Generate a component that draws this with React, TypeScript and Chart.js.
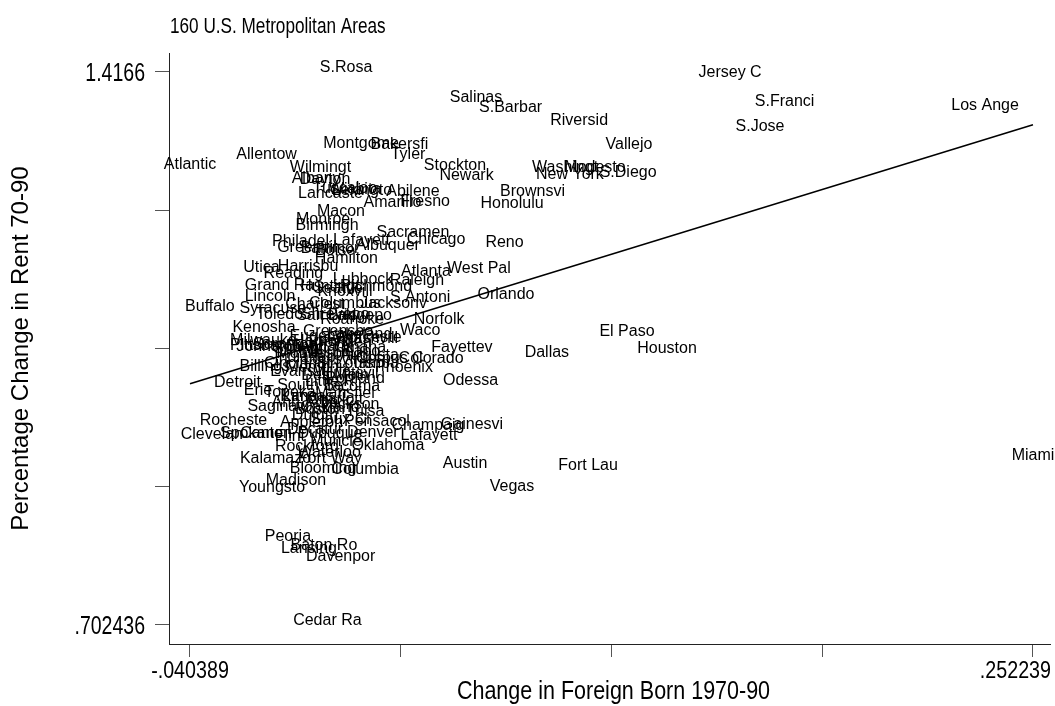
import React, { useEffect, useRef } from "react";
import { Chart, registerables } from "chart.js";

Chart.register(...registerables);

const cityNames = [
  "Atlantic","Allentow","Wilmingt","Albany","Dayton","Lancaste","Tuscaloo","Wichita","Abilene","Amarillo",
  "Fresno","Montgome","Bakersfi","Tyler","Stockton","Newark","Brownsvi","Honolulu","Macon","Monroe",
  "Birmingh","Philadel","Greenvil","Lafayett","Sacramen","Chicago","Albuquer","Reno","Baltimor","Boise",
  "Hamilton","Utica","Harrisbu","Reading","Grand Ra","Lubbock","Raleigh","Atlanta","West Pal","Richmond",
  "Huntingt","Knoxvill","Lincoln","Buffalo","Syracuse","Toledo","S.Antoni","Jacksonv","Columbus","Charlest",
  "Shrevepo","Salt Lak","Norfolk","Orlando","Kenosha","Greensbo","Waco","Eugene","Milwauke","Pittsbur",
  "Scranton","Binghamt","Springfi","Johnstow","Lakeland","Nashvill","Fayettev","Augusta","Colorado","Phoenix",
  "Dallas","El Paso","Houston","Odessa","Gainesvi","Austin","Fort Lau","Vegas","Miami","Jersey C",
  "S.Franci","Los Ange","S.Jose","Riversid","Vallejo","S.Barbar","Washingt","New York","Modesto","S.Diego",
  "Salinas","S.Rosa","Billings","Detroit","Des Moin","Huntsvil","Erie","South Be","Kansas C","Saginaw",
  "Ann Arbo","Oakland","Boston","Charlott","Rocheste","Appleton","Tulsa","Pensacol","Clevelan","Spokane",
  "Canton","Flint","Decatur","Dubuque","Denver","Champaig","Lafayett","Muncie","Rockford","Oklahoma",
  "Waterloo","Kalamazo","Fort Way","Blooming","Columbia","Madison","Youngsto","Peoria","Lansing","Baton Ro",
  "Davenpor","Cedar Ra","Lexingto","Seattle","Worceste","Bridgepo","Roanoke","Indianap","Louisvil","Cincinna",
  "St.Louis","Memphis","Evansvil","Minneapo","Omaha","Tampa","Mobile","Hartford","Providen","Portland",
  "Tucson","Topeka","Lima","Mansfiel","Duluth","Sioux Ci","Jackson","Little R","Tacoma","Corpus C",
];

const foreignBornChange = [
  -0.040389, -0.0138, 0.0049, 0.0034, 0.0065, 0.0084, 0.0134, 0.0169, 0.0370, 0.0299,
  0.0412, 0.0190, 0.0323, 0.0353, 0.0516, 0.0556, 0.0785, 0.0714, 0.0120, 0.0058,
  0.0072, -0.0020, 0.0002, 0.0191, 0.0370, 0.0450, 0.0283, 0.0688, 0.0082, 0.0100,
  0.0139, -0.0156, 0.0006, -0.0045, -0.0093, 0.0197, 0.0384, 0.0415, 0.0599, 0.0242,
  0.0082, 0.0134, -0.0126, -0.0335, -0.0116, -0.0093, 0.0395, 0.0303, 0.0134, 0.0030,
  0.0100, 0.0065, 0.0461, 0.0693, -0.0147, 0.0110, 0.0395, 0.0037, -0.0149, -0.0171,
  -0.0074, 0.0047, -0.0022, -0.0126, 0.0186, 0.0221, 0.0540, 0.0219, 0.0433, 0.0339,
  0.0835, 0.1113, 0.1252, 0.0570, 0.0575, 0.0551, 0.0978, 0.0714, 0.252239, 0.1471,
  0.1660, 0.2356, 0.1575, 0.0947, 0.1120, 0.0709, 0.0898, 0.0915, 0.1002, 0.1117,
  0.0589, 0.0138, -0.0144, -0.0239, 0.0100, 0.0152, -0.0168, 0.0013, 0.0030, -0.0098,
  -0.0005, 0.0082, 0.0047, 0.0100, -0.0253, 0.0018, 0.0204, 0.0245, -0.0328, -0.0190,
  -0.0140, -0.0057, 0.0030, 0.0082, 0.0231, 0.0422, 0.0426, 0.0103, 0.0002, 0.0283,
  0.0079, -0.0107, 0.0082, 0.0058, 0.0204, -0.0036, -0.0119, -0.0064, 0.0009, 0.0061,
  0.0119, 0.0073, 0.0193, 0.0110, 0.0214, 0.0186, 0.0159, -0.0005, 0.0082, -0.0039,
  0.0134, 0.0040, -0.0022, 0.0134, 0.0186, 0.0238, -0.0022, 0.0054, 0.0117, 0.0169,
  0.0065, -0.0057, -0.0022, 0.0134, 0.0030, 0.0117, 0.0152, 0.0082, 0.0159, 0.0290,
];

const rentChange = [
  1.2916, 1.3033, 1.2871, 1.2723, 1.2716, 1.2542, 1.2600, 1.2587, 1.2561, 1.2413,
  1.2432, 1.3181, 1.3168, 1.3045, 1.2891, 1.2768, 1.2555, 1.2407, 1.2303, 1.2200,
  1.2123, 1.1916, 1.1839, 1.1929, 1.2032, 1.1942, 1.1858, 1.1897, 1.1826, 1.1800,
  1.1697, 1.1580, 1.1593, 1.1509, 1.1342, 1.1426, 1.1413, 1.1529, 1.1568, 1.1335,
  1.1335, 1.1271, 1.1206, 1.1077, 1.1051, 1.0974, 1.1193, 1.1116, 1.1116, 1.1103,
  1.0974, 1.0961, 1.0909, 1.1232, 1.0812, 1.0754, 1.0767, 1.0690, 1.0638, 1.0574,
  1.0587, 1.0561, 1.0535, 1.0561, 1.0716, 1.0664, 1.0548, 1.0445, 1.0412, 1.0290,
  1.0477, 1.0754, 1.0535, 1.0122, 0.9560, 0.9057, 0.9031, 0.8754, 0.9160, 1.4097,
  1.3727, 1.3674, 1.3400, 1.3478, 1.3168, 1.3646, 1.2871, 1.2781, 1.2871, 1.2813,
  1.3775, 1.4166, 1.0303, 1.0096, 1.0186, 1.0212, 0.9993, 1.0057, 0.9915, 0.9786,
  0.9838, 0.9773, 0.9748, 0.9877, 0.9606, 0.9580, 0.9722, 0.9593, 0.9431, 0.9438,
  0.9438, 0.9399, 0.9490, 0.9438, 0.9451, 0.9541, 0.9412, 0.9335, 0.9270, 0.9283,
  0.9193, 0.9109, 0.9115, 0.8986, 0.8973, 0.8831, 0.8741, 0.8102, 0.7954, 0.7992,
  0.7844, 0.702436, 1.2574, 1.1309, 1.0677, 1.0961, 1.0909, 1.0419, 1.0393, 1.0341,
  1.0341, 1.0290, 1.0238, 1.0496, 1.0548, 1.0341, 1.0470, 1.0625, 1.0612, 1.0148,
  1.0470, 0.9967, 0.9915, 0.9954, 0.9670, 0.9619, 0.9812, 1.0109, 1.0045, 1.0406,
];

const fitX = [-0.040389, 0.252239];
const fitY = [1.0139, 1.3481];

const xTickValues = [-0.040389, 0.032768, 0.105925, 0.179082, 0.252239];
const xTickLabels = ["-.040389", "", "", "", ".252239"];
const yTickValues = [0.702436, 0.880977, 1.059518, 1.238059, 1.4166];
const yTickLabels = [".702436", "", "", "", "1.4166"];

const titleText = "160 U.S. Metropolitan Areas";
const xTitle = "Change in Foreign Born 1970-90";
const yTitle = "Percentage Change in Rent 70-90";

const FONT = '"Liberation Sans", Arial, sans-serif';

function condensedText(
  ctx: CanvasRenderingContext2D,
  text: string,
  x: number,
  y: number,
  size: number,
  sx: number,
  align: CanvasTextAlign,
  baseline: CanvasTextBaseline,
  rotation = 0
) {
  ctx.save();
  ctx.translate(x, y);
  if (rotation) ctx.rotate(rotation);
  ctx.scale(sx, 1);
  ctx.font = size + "px " + FONT;
  ctx.textAlign = align;
  ctx.textBaseline = baseline;
  ctx.fillStyle = "#000";
  ctx.fillText(text, 0, 0);
  ctx.restore();
}

const textPlugin = {
  id: "stataText",
  afterDatasetsDraw(chart: any) {
    const ctx: CanvasRenderingContext2D = chart.ctx;
    const meta = chart.getDatasetMeta(0);
    ctx.save();
    ctx.font = "16px " + FONT;
    ctx.fillStyle = "#000";
    ctx.textAlign = "center";
    ctx.textBaseline = "alphabetic";
    meta.data.forEach((pt: any, i: number) => {
      ctx.fillText(cityNames[i], pt.x, pt.y);
    });
    ctx.restore();
  },
  afterDraw(chart: any) {
    const ctx: CanvasRenderingContext2D = chart.ctx;
    const xs = chart.scales.x;
    const ys = chart.scales.y;
    const area = chart.chartArea;
    // title
    condensedText(ctx, titleText, area.left + 1, 33, 22, 0.78, "left", "alphabetic");
    // x tick labels
    xTickValues.forEach((v, i) => {
      const label = xTickLabels[i];
      if (!label) return;
      ctx.save();
      ctx.font = "24px " + FONT;
      const w = ctx.measureText(label).width * 0.82;
      ctx.restore();
      let px = xs.getPixelForValue(v);
      px = Math.min(px, chart.width - 4 - w / 2);
      condensedText(ctx, label, px, xs.top + 27, 24, 0.82, "center", "middle");
    });
    // y tick labels
    yTickValues.forEach((v, i) => {
      const label = yTickLabels[i];
      if (!label) return;
      const py = ys.getPixelForValue(v);
      condensedText(ctx, label, area.left - 24, py + 2, 25, 0.78, "right", "middle");
    });
    // axis titles
    condensedText(ctx, xTitle, (area.left + area.right) / 2 + 4, 699, 25, 0.86, "center", "alphabetic");
    condensedText(ctx, yTitle, 28, (area.top + area.bottom) / 2, 24, 1, "center", "alphabetic", -Math.PI / 2);
  },
};

export default function App() {
  const ref = useRef<HTMLCanvasElement | null>(null);
  useEffect(() => {
    document.body.style.margin = "0";
    const canvas = ref.current;
    if (!canvas) return;
    const points = cityNames.map((_, i) => ({ x: foreignBornChange[i], y: rentChange[i] }));
    const fitPoints = fitX.map((x, i) => ({ x, y: fitY[i] }));
    const chart = new Chart(canvas, {
      type: "scatter",
      data: {
        datasets: [
          { type: "scatter", data: points, pointRadius: 0, pointHoverRadius: 0, showLine: false } as any,
          {
            type: "line",
            data: fitPoints,
            borderColor: "#000",
            borderWidth: 1.6,
            pointRadius: 0,
            showLine: true,
            fill: false,
            tension: 0,
          } as any,
        ],
      },
      options: {
        responsive: false,
        animation: false,
        events: [],
        layout: { padding: { left: 0, right: 5, top: 53, bottom: 0 } },
        plugins: {
          legend: { display: false },
          tooltip: { enabled: false },
          title: { display: false },
        },
        scales: {
          x: {
            type: "linear",
            min: -0.047678,
            max: 0.258148,
            afterBuildTicks: (s: any) => {
              s.ticks = xTickValues.map((v) => ({ value: v }));
            },
            afterFit: (s: any) => {
              s.height = 62;
              s.paddingLeft = 0;
              s.paddingRight = 0;
            },
            ticks: { display: false, autoSkip: false },
            grid: { drawOnChartArea: false, drawTicks: true, tickLength: 13, color: "#555" },
            border: { display: true, color: "#222", width: 1 },
          },
          y: {
            type: "linear",
            min: 0.67789,
            max: 1.44072,
            afterBuildTicks: (s: any) => {
              s.ticks = yTickValues.map((v) => ({ value: v }));
            },
            afterFit: (s: any) => {
              s.width = 169;
              s.paddingTop = 0;
              s.paddingBottom = 0;
            },
            ticks: { display: false, autoSkip: false },
            grid: { drawOnChartArea: false, drawTicks: true, tickLength: 14, color: "#555" },
            border: { display: true, color: "#222", width: 1 },
          },
        },
      },
      plugins: [textPlugin],
    });
    return () => chart.destroy();
  }, []);
  return (
    <div style={{ width: 1055, height: 706, background: "#fff" }}>
      <canvas ref={ref} width={1055} height={706} style={{ display: "block" }} />
    </div>
  );
}
